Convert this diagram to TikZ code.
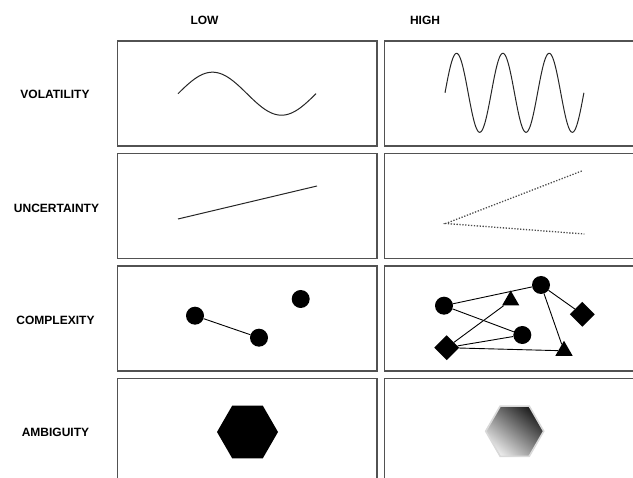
\documentclass[tikz,border=0pt]{standalone}
\usepackage{fontspec}
\setmainfont{Liberation Sans}
\usetikzlibrary{shapes.geometric}
\begin{document}
\begin{tikzpicture}[x=1pt,y=-1pt,
  panel/.style={draw=black!68, line width=1.3pt},
  lab/.style={font=\bfseries\fontsize{12}{14}\selectfont, inner sep=0pt, anchor=center},
  curve/.style={draw=black!85, line width=1pt},
  dot/.style={circle, fill=black, inner sep=0pt, minimum size=18pt},
  dia/.style={diamond, fill=black, inner sep=0pt, minimum size=25pt},
  tri/.style={regular polygon, regular polygon sides=3, fill=black, inner sep=0pt, minimum size=20pt},
  link/.style={draw=black, line width=0.9pt}]
\useasboundingbox (0,0) rectangle (633,478);
\clip (0,0) rectangle (633,478);
% column and row labels
\node[lab] (low) at (204.5,20) {LOW};
\node[lab] (high) at (425,20) {HIGH};
\node[lab] (vol) at (55,94.5) {VOLATILITY};
\node[lab] (unc) at (56.5,208) {UNCERTAINTY};
\node[lab] (cpx) at (55.5,320) {COMPLEXITY};
\node[lab] (amb) at (55.5,432) {AMBIGUITY};
% panels
\foreach \yt in {41,153.5,266,378.5}{
  \draw[panel] (117.5,\yt) rectangle (377,\yt+105);
  \draw[panel] (384.5,\yt) rectangle (644,\yt+105);
}
% volatility
\draw[curve] plot[domain=0:360, samples=120, smooth] ({178+\x/360*138},{93.7-21.5*sin(\x)});
\draw[curve] plot[domain=0:1080, samples=300, smooth] ({445+\x/360*46.3},{92.8-39.5*sin(\x)});
% uncertainty
\coordinate (u1) at (178,219);
\coordinate (u2) at (317,186);
\draw[curve] (u1) -- (u2);
\coordinate (ua) at (445.7,223.5);
\coordinate (ub) at (581.7,171);
\coordinate (uc) at (584.3,234);
\draw[draw=black!70, line width=1.3pt, dash pattern=on 1.3pt off 1.6pt] (ub) -- (ua) -- (uc);
% complexity low
\node[dot] (l1) at (195,315.7) {};
\node[dot] (l2) at (259,337.7) {};
\node[dot] (l3) at (300.7,299) {};
\draw[link] (l1) -- (l2);
% complexity high
\node[dot] (ca) at (444,305.7) {};
\node[dot] (cb) at (541,285) {};
\node[dot] (cc) at (522.3,335) {};
\node[tri] (t1) at (510.7,300.5) {};
\node[tri] (t2) at (564,350.8) {};
\node[dia] (d1) at (582.3,314.3) {};
\node[dia] (d2) at (446.7,347.7) {};
\draw[link] (ca) -- (cb);
\draw[link] (ca) -- (cc);
\draw[link] (d2) -- (t1);
\draw[link] (d2) -- (cc);
\draw[link] (d2) -- (t2);
\draw[link] (cb) -- (d1);
\draw[link] (cb) -- (t2);
% ambiguity
\node[regular polygon, regular polygon sides=6, fill=black, inner sep=0pt, minimum size=61pt] (hx1) at (247.5,432) {};
\node[regular polygon, regular polygon sides=6, inner sep=0pt, minimum size=58pt,
  top color=black!88, bottom color=black!8, shading angle=-40,
  draw=black!15, line width=1.6pt] (hx2) at (514.7,431.2) {};
\end{tikzpicture}
\end{document}
